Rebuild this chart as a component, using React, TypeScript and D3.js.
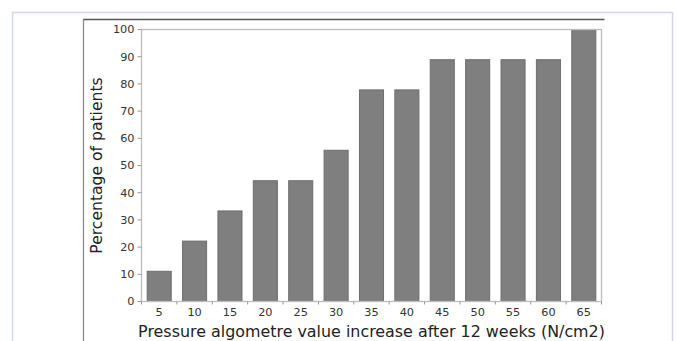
import React from "react";
import * as d3 from "d3";

const categories = ["5", "10", "15", "20", "25", "30", "35", "40", "45", "50", "55", "60", "65"];
const values = [11.1, 22.2, 33.3, 44.4, 44.4, 55.6, 77.8, 77.8, 88.9, 88.9, 88.9, 88.9, 100];
const yTicks = [0, 10, 20, 30, 40, 50, 60, 70, 80, 90, 100];
const xLabel = "Pressure algometre value increase after 12 weeks (N/cm2)";
const yLabel = "Percentage of patients";

const W = 677;
const H = 341;
const L = 141.5, R = 601.5, T = 29.5, B = 301.5;

export default function App() {
  const x = d3.scaleBand<string>().domain(categories).range([L, R]).paddingInner(0.32).paddingOuter(0.16);
  const y = d3.scaleLinear().domain([0, 100]).range([B, T]);
  const font = "DejaVu Sans, sans-serif";
  const step = x.step();
  return (
    <svg width={W} height={H} style={{ position: "absolute", left: 0, top: 0 }}>
      <rect x={0} y={0} width={W} height={H} fill="#fff" />
      {/* outer frame */}
      <rect x={12.5} y={12.5} width={660} height={H} fill="none" stroke="#d4d4f0" strokeWidth={1.5} />
      {/* inner image border */}
      <line x1={83} x2={604.5} y1={19.5} y2={19.5} stroke="#555" strokeWidth={1.5} />
      <line x1={83.5} x2={83.5} y1={19} y2={H} stroke="#888" strokeWidth={1.2} />
      {/* bars */}
      {categories.map((c, i) => (
        <rect
          key={c}
          x={x(c)!}
          y={y(values[i])}
          width={x.bandwidth()}
          height={B - y(values[i])}
          fill="#7f7f7f"
          stroke="#6e6e6e"
          strokeWidth={1}
        />
      ))}
      {/* spines */}
      <rect x={L} y={T} width={R - L} height={B - T} fill="none" stroke="#bdbdbd" strokeWidth={1.3} />
      {/* y ticks */}
      {yTicks.map((t) => (
        <g key={t}>
          <line x1={L - 4} x2={L} y1={y(t)} y2={y(t)} stroke="#999" />
          <text x={L - 7} y={y(t)} dy="0.35em" textAnchor="end" fontFamily={font} fontSize={11.3} fill="#333">
            {t}
          </text>
        </g>
      ))}
      {/* x ticks at band boundaries */}
      {categories.map((c) => (
        <line key={"t" + c} x1={x(c)! - (step - x.bandwidth()) / 2} x2={x(c)! - (step - x.bandwidth()) / 2} y1={B} y2={B + 3} stroke="#999" />
      ))}
      <line x1={R} x2={R} y1={B} y2={B + 3} stroke="#999" />
      {categories.map((c) => (
        <text key={"l" + c} x={x(c)! + x.bandwidth() / 2} y={316} textAnchor="middle" fontFamily={font} fontSize={11.3} fill="#333">
          {c}
        </text>
      ))}
      <text x={(L + R) / 2} y={337} textAnchor="middle" fontFamily={font} fontSize={15.9} fill="#222">
        {xLabel}
      </text>
      <text
        transform={`translate(${102},${(T + B) / 2}) rotate(-90)`}
        textAnchor="middle"
        fontFamily={font}
        fontSize={15.6}
        fill="#222"
      >
        {yLabel}
      </text>
    </svg>
  );
}
